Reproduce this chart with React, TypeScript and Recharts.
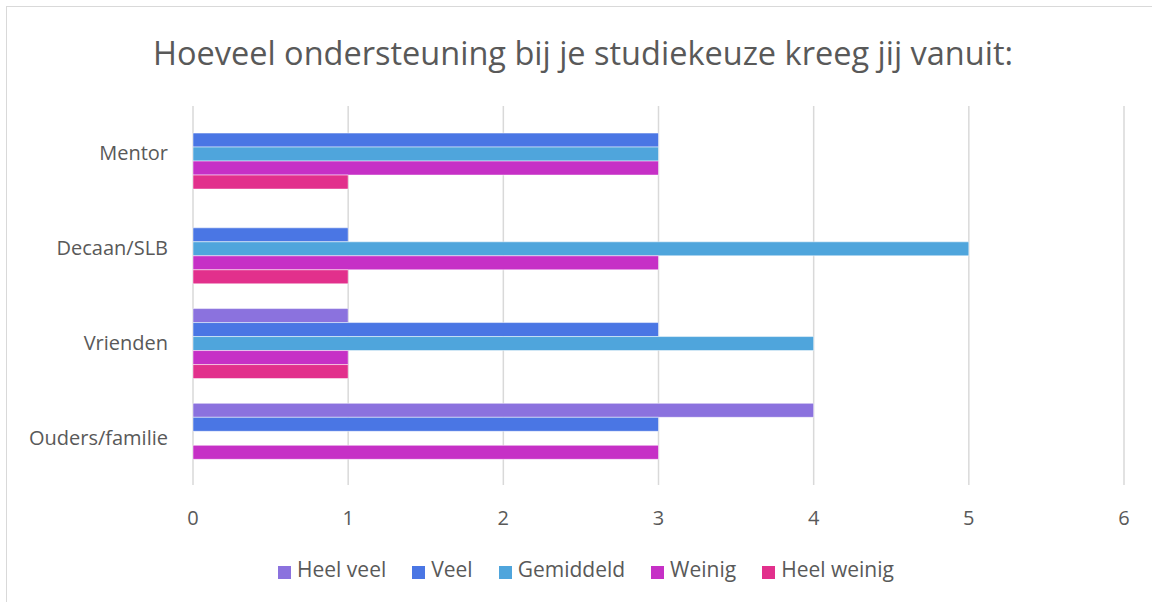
import { BarChart, Bar, XAxis, YAxis, CartesianGrid, Legend } from "recharts"

const categories = ["Mentor", "Decaan/SLB", "Vrienden", "Ouders/familie"]
const heelVeel = [0, 0, 1, 4]
const veel = [3, 1, 3, 3]
const gemiddeld = [3, 5, 4, 0]
const weinig = [3, 3, 1, 3]
const heelWeinig = [1, 1, 1, 0]
const xTicks = [0, 1, 2, 3, 4, 5, 6]

const series = [
  { key: "heelVeel", name: "Heel veel", color: "#8b72de" },
  { key: "veel", name: "Veel", color: "#4a76e4" },
  { key: "gemiddeld", name: "Gemiddeld", color: "#4fa5dc" },
  { key: "weinig", name: "Weinig", color: "#c630c6" },
  { key: "heelWeinig", name: "Heel weinig", color: "#e2308c" },
]

const data = categories.map((name, i) => ({
  name,
  heelVeel: heelVeel[i],
  veel: veel[i],
  gemiddeld: gemiddeld[i],
  weinig: weinig[i],
  heelWeinig: heelWeinig[i],
}))

const font = "'Open Sans', 'Segoe UI', sans-serif"

export default function App() {
  return (
    <div style={{ position: "absolute", left: 0, top: 0, width: 1152, height: 602, background: "#fff", fontFamily: font, overflow: "hidden" }}>
      <div
        style={{
          position: "absolute",
          left: 6,
          top: 6,
          width: 1160,
          height: 610,
          border: "1px solid #d9d9d9",
        }}
      />
      <div
        style={{
          position: "absolute",
          left: 0,
          top: 30,
          width: 1166,
          textAlign: "center",
          fontSize: 32.5,
          color: "#595959",
          whiteSpace: "nowrap",
        }}
      >
        Hoeveel ondersteuning bij je studiekeuze kreeg jij vanuit:
      </div>
      <div style={{ position: "absolute", left: 0, top: 0 }}>
        <BarChart
          width={1152}
          height={602}
          data={data}
          layout="vertical"
          margin={{ top: 106, right: 28, left: 0, bottom: 29 }}
          barCategoryGap="13.8%"
          barGap={0}
        >
          <CartesianGrid horizontal={false} stroke="#d9d9d9" strokeWidth={1.5} />
          <XAxis
            type="number"
            domain={[0, 6]}
            ticks={xTicks}
            axisLine={false}
            tickLine={false}
            tickSize={0}
            tickMargin={26}
            height={60}
            tick={{ fill: "#595959", fontSize: 20, fontFamily: font }}
          />
          <YAxis
            type="category"
            dataKey="name"
            width={193}
            axisLine={false}
            tickLine={false}
            tickSize={0}
            tickMargin={25}
            tick={{ fill: "#595959", fontSize: 20, fontFamily: font }}
          />
          <Legend
            verticalAlign="bottom"
            align="center"
            iconType="square"
            iconSize={13}
            itemSorter={(item: any) => series.findIndex((s) => s.name === item.value)}
            wrapperStyle={{ top: 555, bottom: "auto", left: 37 }}
            formatter={(value) => (
              <span style={{ color: "#595959", fontSize: 21, marginLeft: 2, marginRight: 16 }}>{value}</span>
            )}
          />
          {series.map((s) => (
            <Bar
              key={s.key}
              dataKey={s.key}
              name={s.name}
              fill={s.color}
              stroke="#ffffff"
              strokeOpacity={0.5}
              strokeWidth={1}
              isAnimationActive={false}
            />
          ))}
        </BarChart>
      </div>
    </div>
  )
}
